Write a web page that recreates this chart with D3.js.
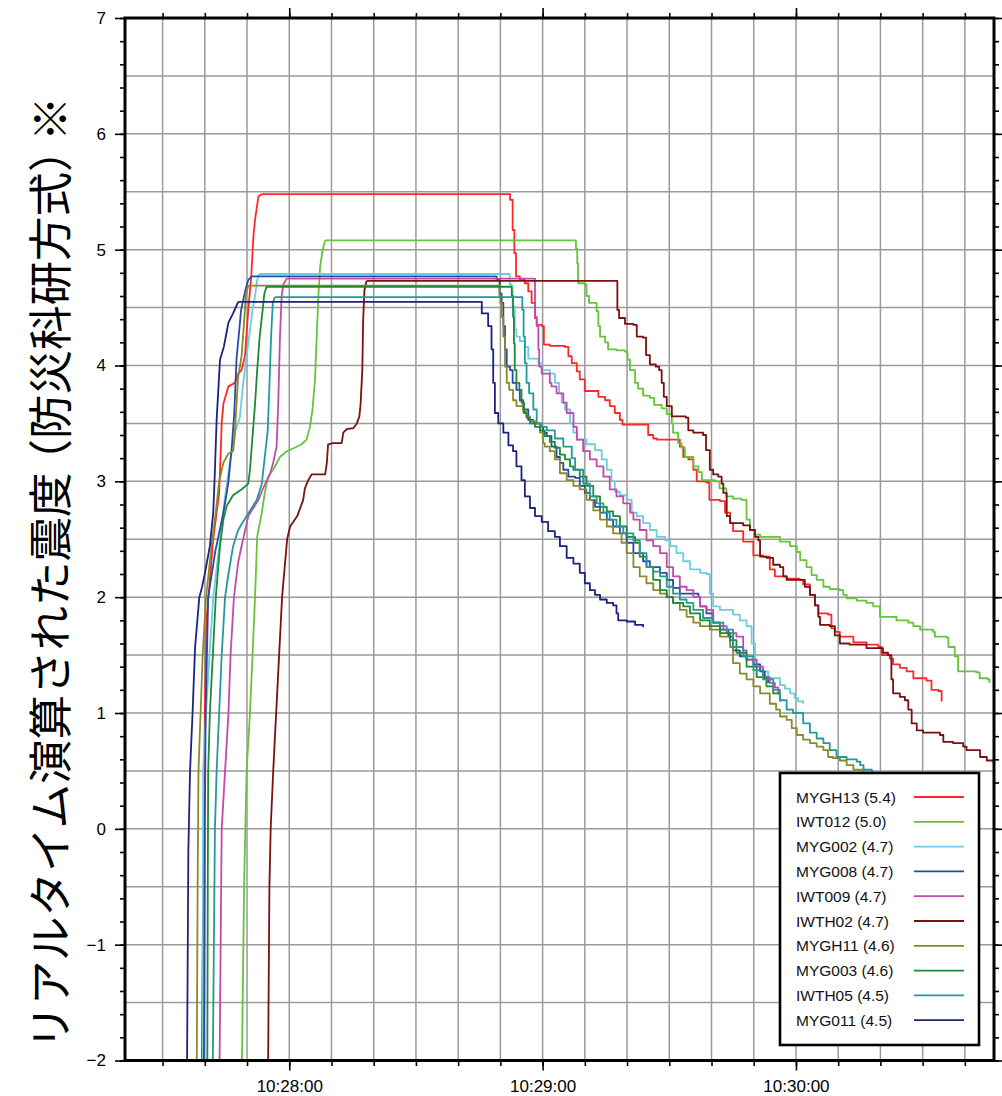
<!DOCTYPE html>
<html>
<head>
<meta charset="utf-8">
<script src="https://cdn.jsdelivr.net/npm/d3@7"></script>
<style>
  html, body { margin: 0; padding: 0; background: #fff; }
  svg { display: block; font-family: "Liberation Sans", Arial, Helvetica, sans-serif; }
</style>
</head>
<body>
<svg id="chart" width="1002" height="1096"></svg>
<script>
// Each series: [seconds relative to 10:28:00, real-time seismic intensity]
const stationNames = ["MYGH13", "IWT012", "MYG002", "MYG008", "IWT009", "IWTH02", "MYGH11", "MYG003", "IWTH05", "MYG011"];
const maxIntensity = ["5.4", "5.0", "4.7", "4.7", "4.7", "4.7", "4.6", "4.6", "4.5", "4.5"];
const lineColors = ["#ff2828", "#66c43a", "#6bcde0", "#2a4aa8", "#c24aaa", "#7a1010", "#8a8a2a", "#1f8a35", "#24999a", "#1c237e"];

const yTickValues = [-2, -1, 0, 1, 2, 3, 4, 5, 6, 7];
const xTickLabels = ["10:28:00", "10:29:00", "10:30:00"];

const MYGH13 = [[-20.8,-3],[-20.7,-2],[-20.5,-1],[-20.2,0],[-20.0,1],[-19.6,1.8],[-18.8,2.15],[-18.0,2.5],[-17.2,2.73],[-16.6,2.9],[-16.3,3.19],[-16.0,3.5],[-15.6,3.67],[-14.4,3.82],[-12.9,3.85],[-12.1,3.93],[-11.3,3.96],[-10.5,4.08],[-9.7,4.48],[-9.0,4.77],[-8.5,5.11],[-8.1,5.26],[-7.3,5.46],[-6.5,5.48],[51.5,5.48],[52.3,5.43],[52.9,5.17],[53.3,4.97],[53.7,4.77],[54.6,4.74],[55.8,4.71],[56.6,4.64],[57.4,4.54],[58.2,4.41],[58.6,4.35],[59.8,4.34],[60.3,4.18],[61.7,4.17],[65.3,4.16],[66.1,4.08],[66.9,4.02],[68.1,3.95],[68.8,3.88],[70.0,3.78],[73.2,3.73],[74.8,3.70],[75.9,3.65],[77.1,3.59],[78.3,3.53],[78.9,3.49],[84.6,3.49],[85.0,3.40],[86.2,3.37],[87.0,3.36],[91.7,3.36],[92.5,3.30],[93.3,3.21],[94.5,3.19],[95.7,3.10],[96.5,3.00],[98.8,2.99],[99.5,2.84],[102.0,2.83],[103.2,2.73],[104.4,2.64],[105.1,2.57],[107.5,2.48],[109.9,2.36],[112.2,2.35],[113.8,2.24],[115.0,2.18],[117.8,2.16],[120.9,2.15],[121.7,2.11],[123.3,2.02],[124.5,1.93],[125.3,1.86],[127.6,1.85],[128.4,1.73],[129.2,1.70],[130.4,1.66],[133.6,1.61],[136.7,1.59],[139.5,1.57],[140.3,1.50],[142.2,1.47],[143.0,1.42],[144.6,1.39],[146.2,1.36],[147.8,1.30],[150.9,1.28],[152.1,1.20],[153.7,1.19],[154.5,1.10]];

const IWT012 = [[-11.3,-3],[-11.2,-2],[-10.7,-0.5],[-10.4,0],[-10.1,0.5],[-9.3,1.0],[-8.7,1.5],[-8.1,2.0],[-7.6,2.52],[-6.5,2.73],[-5.8,2.9],[-5.0,3.04],[-3.8,3.10],[-2.2,3.21],[-0.6,3.26],[1.3,3.29],[2.9,3.32],[4.1,3.36],[4.9,3.47],[5.5,3.62],[6.1,3.88],[6.5,4.25],[6.9,4.60],[7.3,4.85],[7.9,5.0],[8.5,5.08],[67.3,5.08],[67.9,5.01],[68.2,4.88],[68.4,4.71],[70.0,4.70],[70.4,4.60],[71.0,4.54],[72.8,4.47],[73.2,4.34],[73.6,4.25],[74.8,4.20],[75.5,4.14],[77.5,4.13],[79.5,4.12],[80.1,4.05],[80.7,3.96],[81.9,3.85],[82.6,3.80],[83.8,3.74],[85.4,3.72],[86.4,3.66],[88.2,3.63],[89.4,3.58],[90.6,3.50],[90.9,3.42],[92.1,3.33],[92.9,3.29],[93.7,3.21],[95.7,3.13],[96.9,3.08],[97.7,3.01],[100.8,3.0],[101.9,2.94],[103.5,2.87],[105.1,2.85],[107.1,2.84],[108.3,2.67],[109.1,2.58],[110.3,2.54],[111.5,2.52],[116.2,2.48],[118.6,2.44],[120.2,2.39],[121.0,2.32],[122.5,2.26],[123.7,2.19],[124.9,2.15],[126.5,2.09],[128.0,2.07],[130.4,2.06],[131.2,2.02],[132.0,1.99],[134.4,1.97],[136.7,1.95],[138.3,1.92],[139.9,1.83],[143.8,1.80],[146.6,1.78],[147.8,1.75],[149.4,1.72],[152.5,1.70],[152.9,1.66],[155.7,1.65],[156.1,1.57],[157.6,1.49],[158.4,1.36],[162.7,1.35],[163.5,1.30],[165.4,1.29],[165.8,1.26]];

const MYG002 = [[-20.5,-3],[-20.45,-2],[-20.4,0.5],[-19.7,1.0],[-18.9,1.5],[-18.0,2.0],[-16.4,2.5],[-15.2,2.87],[-14.3,3.1],[-12.9,3.42],[-11.7,3.55],[-10.9,3.85],[-9.7,4.19],[-8.7,4.48],[-8.1,4.60],[-7.6,4.74],[-7.1,4.79],[51.9,4.79],[52.2,4.70],[52.7,4.65],[52.9,4.51],[53.4,4.31],[53.8,4.25],[54.6,4.21],[55.8,4.16],[56.6,4.06],[59.0,4.02],[59.8,3.96],[61.7,3.93],[62.9,3.85],[63.9,3.76],[64.5,3.68],[65.3,3.62],[66.5,3.50],[67.3,3.42],[68.1,3.36],[70.4,3.32],[72.4,3.27],[74.0,3.19],[75.2,3.10],[76.3,3.0],[77.1,2.91],[78.3,2.88],[79.9,2.84],[81.1,2.73],[82.3,2.70],[83.8,2.64],[85.4,2.58],[87.0,2.52],[89.0,2.49],[90.2,2.44],[91.7,2.38],[93.3,2.31],[94.9,2.24],[97.3,2.21],[98.8,2.20],[99.6,2.03],[100.4,1.92],[102.0,1.89],[105.1,1.85],[106.7,1.80],[108.3,1.75],[109.5,1.60],[110.3,1.42],[111.5,1.36],[113.4,1.30],[116.2,1.24],[117.4,1.21],[118.6,1.17],[119.7,1.13],[120.5,1.10],[121.7,1.08]];

const MYG008 = [[-20.3,-3],[-20.2,-2],[-20.1,-1],[-20.0,0],[-19.8,1.0],[-19.2,2.0],[-17.5,2.4],[-15.6,2.73],[-14.8,2.9],[-14.4,3.0],[-13.6,3.3],[-13.0,3.6],[-12.5,4.05],[-11.4,4.48],[-10.4,4.65],[-9.7,4.74],[-8.9,4.77],[48.7,4.77],[49.1,4.74],[49.8,4.62],[50.3,4.54],[50.7,4.34],[51.1,4.14],[51.5,3.99],[52.3,3.96],[52.9,3.85],[53.8,3.79],[54.6,3.70],[55.4,3.62],[56.6,3.53],[57.8,3.50],[59.4,3.47],[60.1,3.42],[61.0,3.39],[62.1,3.30],[63.3,3.21],[64.1,3.16],[64.9,3.10],[66.1,3.04],[67.7,3.03],[68.8,2.96],[70.0,2.90],[71.2,2.84],[72.4,2.78],[73.6,2.73],[75.2,2.67],[76.7,2.61],[78.3,2.55],[79.9,2.47],[81.5,2.38],[83.8,2.31],[85.4,2.26],[87.8,2.21],[89.4,2.15],[90.9,2.08],[92.5,2.03],[96.9,2.0],[97.3,1.92],[98.8,1.86],[100.4,1.78],[102.0,1.72],[104.0,1.66],[105.1,1.54],[106.7,1.49],[108.3,1.46],[109.9,1.42],[111.5,1.36],[112.6,1.30],[113.4,1.26]];

const IWT009 = [[-16.6,-3],[-16.5,-2],[-16.0,0],[-15.2,0.5],[-14.4,1.0],[-13.9,1.5],[-13.1,2.0],[-12.1,2.3],[-11.3,2.44],[-9.7,2.70],[-7.3,2.84],[-6.2,2.94],[-5.4,3.0],[-4.6,3.06],[-3.8,3.16],[-3.0,3.30],[-2.6,3.68],[-2.2,4.25],[-1.8,4.60],[-1.4,4.70],[-0.6,4.75],[57.8,4.75],[58.2,4.42],[58.6,4.34],[59.0,4.14],[59.2,3.99],[59.8,3.93],[61.7,3.85],[62.1,3.82],[63.3,3.76],[64.9,3.68],[65.7,3.59],[67.3,3.47],[68.1,3.36],[69.6,3.26],[71.2,3.19],[72.8,3.13],[74.4,3.04],[75.9,2.93],[77.5,2.87],[79.1,2.81],[80.7,2.73],[81.5,2.67],[83.0,2.58],[84.6,2.49],[86.2,2.44],[87.8,2.38],[89.4,2.26],[90.9,2.18],[92.5,2.09],[94.1,2.06],[95.7,2.0],[97.3,1.92],[98.8,1.89],[100.4,1.78],[102.0,1.75],[103.6,1.69],[105.9,1.66],[107.5,1.54],[108.3,1.46],[110.7,1.40],[112.2,1.31],[113.8,1.26],[115.0,1.22],[115.8,1.16]];

const IWTH02 = [[-5.1,-3],[-5.0,-2],[-4.7,-0.5],[-4.4,0],[-3.8,0.5],[-3.1,1.0],[-2.4,1.5],[-1.7,2.0],[-1.3,2.17],[-0.5,2.5],[0.2,2.61],[1.9,2.7],[3.3,2.84],[3.7,2.94],[4.5,3.01],[5.3,3.06],[8.5,3.06],[8.9,3.16],[9.2,3.32],[10.4,3.33],[12.4,3.33],[12.8,3.42],[13.6,3.45],[15.2,3.46],[16.0,3.50],[16.6,3.56],[16.9,3.67],[17.3,3.96],[17.5,4.39],[17.8,4.65],[18.3,4.73],[77.4,4.73],[77.7,4.48],[78.1,4.41],[79.5,4.36],[81.5,4.35],[82.3,4.25],[83.8,4.24],[84.5,4.09],[85.4,4.01],[86.8,3.99],[87.6,3.96],[88.2,3.85],[88.7,3.73],[89.4,3.65],[90.6,3.56],[93.9,3.55],[94.5,3.44],[95.7,3.42],[98.0,3.40],[98.7,3.27],[99.6,3.10],[100.4,3.06],[101.6,3.04],[102.4,2.98],[102.8,2.90],[103.6,2.70],[104.4,2.64],[107.5,2.62],[109.1,2.58],[110.3,2.52],[111.1,2.49],[111.5,2.35],[113.0,2.34],[114.6,2.28],[116.2,2.26],[117.0,2.18],[117.8,2.15],[120.9,2.15],[122.1,2.09],[123.3,2.02],[124.5,1.93],[125.3,1.83],[125.7,1.76],[128.0,1.75],[129.2,1.67],[130.4,1.60],[132.7,1.59],[136.7,1.56],[140.6,1.52],[141.8,1.50],[142.6,1.29],[143.0,1.17],[144.6,1.14],[145.8,1.11],[146.6,1.03],[147.4,0.91],[148.6,0.85],[150.1,0.83],[154.1,0.81],[154.9,0.75],[157.2,0.74],[159.6,0.71],[160.4,0.68],[163.2,0.68],[163.6,0.62],[165.2,0.59],[166.8,0.57],[168.0,0.55]];

const MYGH11 = [[-22.0,-3],[-21.9,-2],[-21.7,-0.5],[-21.5,0.5],[-21.0,1],[-20.5,1.5],[-19.7,2],[-18.4,2.44],[-17.4,2.73],[-16.6,3.0],[-15.6,3.16],[-14.4,3.24],[-13.3,3.26],[-12.9,3.39],[-12.5,3.67],[-12.1,3.90],[-11.3,4.08],[-10.7,4.37],[-10.3,4.60],[-9.7,4.69],[48.9,4.69],[49.8,4.60],[50.0,4.54],[50.3,4.42],[50.7,4.25],[51.1,3.99],[51.5,3.85],[52.1,3.79],[53.0,3.70],[53.8,3.65],[55.4,3.60],[56.2,3.56],[57.0,3.52],[58.2,3.50],[59.4,3.42],[60.1,3.33],[60.5,3.30],[61.7,3.26],[62.9,3.19],[64.1,3.07],[65.7,3.01],[67.3,2.96],[68.8,2.93],[70.4,2.84],[72.0,2.75],[73.6,2.67],[75.2,2.61],[76.7,2.55],[78.7,2.47],[79.9,2.38],[81.5,2.26],[83.0,2.18],[84.6,2.12],[86.2,2.06],[87.8,2.03],[89.4,2.0],[90.9,1.95],[92.5,1.89],[94.1,1.83],[95.7,1.78],[97.3,1.75],[99.6,1.72],[102.0,1.66],[104.4,1.57],[105.1,1.43],[106.7,1.34],[108.3,1.29],[109.9,1.23],[111.5,1.17],[113.8,1.08],[115.3,1.03],[116.2,0.97],[117.8,0.94],[119.0,0.87],[120.2,0.81],[121.7,0.77],[123.3,0.74],[124.9,0.71],[126.5,0.68],[127.6,0.62],[128.8,0.61],[130.4,0.59],[132.0,0.55],[133.6,0.51],[136.0,0.46],[140.0,0.40]];

const MYG003 = [[-19.5,-3],[-19.4,-2],[-19.3,-0.5],[-19.2,0.5],[-18.8,1.0],[-18.1,1.5],[-17.4,2.0],[-16.4,2.44],[-15.6,2.67],[-14.8,2.79],[-13.3,2.88],[-11.3,2.93],[-9.7,2.98],[-9.3,3.10],[-8.7,3.39],[-8.1,3.67],[-7.6,3.96],[-7.0,4.25],[-6.3,4.48],[-5.9,4.62],[-5.4,4.68],[52.3,4.68],[52.7,4.60],[53.0,4.42],[53.2,4.19],[53.4,3.96],[53.8,3.85],[54.5,3.79],[55.0,3.68],[55.6,3.59],[56.2,3.55],[57.0,3.50],[58.2,3.47],[59.4,3.44],[60.5,3.39],[61.7,3.34],[62.9,3.29],[64.1,3.23],[65.3,3.19],[66.5,3.13],[67.3,3.10],[68.8,3.04],[70.4,2.96],[72.0,2.87],[73.6,2.78],[75.2,2.74],[76.7,2.70],[78.3,2.61],[79.9,2.52],[81.9,2.47],[83.0,2.35],[84.6,2.26],[86.2,2.15],[87.8,2.06],[89.4,2.0],[90.9,1.95],[93.3,1.92],[94.9,1.86],[97.3,1.80],[99.6,1.75],[102.0,1.69],[104.4,1.63],[105.9,1.52],[108.3,1.40],[110.7,1.31],[113.0,1.23],[114.6,1.17],[116.2,1.10]];

const IWTH05 = [[-18.2,-3],[-18.1,-2],[-17.6,0],[-17.2,0.5],[-16.6,1.0],[-16.0,1.5],[-15.2,2.0],[-14.4,2.2],[-13.3,2.44],[-12.1,2.58],[-10.1,2.70],[-7.7,2.84],[-6.5,2.98],[-5.8,3.21],[-5.1,3.44],[-4.7,3.82],[-4.3,4.25],[-3.9,4.54],[-3.4,4.59],[55.0,4.59],[55.2,4.48],[55.5,4.25],[55.8,4.02],[56.2,3.85],[56.8,3.76],[57.8,3.62],[58.6,3.50],[59.8,3.47],[61.0,3.44],[62.9,3.37],[64.9,3.30],[66.9,3.20],[67.7,3.10],[69.6,2.98],[71.2,2.87],[72.8,2.81],[74.4,2.73],[75.9,2.67],[77.5,2.61],[79.1,2.55],[81.5,2.49],[83.0,2.38],[84.6,2.26],[86.2,2.22],[87.8,2.18],[89.4,2.09],[90.9,2.03],[92.5,1.98],[94.1,1.95],[95.7,1.89],[98.0,1.82],[100.4,1.78],[102.8,1.72],[105.1,1.57],[107.5,1.49],[109.9,1.37],[112.2,1.29],[114.6,1.20],[116.2,1.11],[117.8,1.03],[119.3,1.0],[121.0,1.0],[121.7,0.91],[123.3,0.83],[124.9,0.78],[126.5,0.74],[128.0,0.68],[129.6,0.62],[132.0,0.60],[134.4,0.58],[135.2,0.55],[136.0,0.51],[138.0,0.45]];

const MYG011 = [[-24.3,-3],[-24.2,-2],[-23.9,-0.2],[-23.5,0.5],[-22.9,1.0],[-22.3,1.57],[-21.3,2.0],[-20.7,2.08],[-20.0,2.2],[-18.8,2.44],[-18.0,2.73],[-17.7,3.0],[-17.2,3.53],[-16.4,4.05],[-15.5,4.16],[-14.4,4.37],[-13.3,4.45],[-12.1,4.55],[44.4,4.55],[45.6,4.45],[47.1,4.34],[47.9,4.14],[48.3,3.85],[48.7,3.59],[49.5,3.5],[50.7,3.42],[51.9,3.31],[53.0,3.26],[53.8,3.13],[55.0,3.01],[55.8,2.87],[57.0,2.77],[58.2,2.70],[59.8,2.65],[61.3,2.57],[62.9,2.52],[64.1,2.44],[65.7,2.34],[67.3,2.29],[68.8,2.21],[70.0,2.12],[71.2,2.06],[72.4,2.02],[73.6,1.98],[75.2,1.95],[76.7,1.93],[77.5,1.86],[77.9,1.80],[79.9,1.79],[81.9,1.76],[83.8,1.74]];

const seriesValues = [MYGH13, IWT012, MYG002, MYG008, IWT009, IWTH02, MYGH11, MYG003, IWTH05, MYG011];

const series = stationNames.map((name, i) => ({
  name,
  label: `${name} (${maxIntensity[i]})`,
  color: lineColors[i],
  values: seriesValues[i]
}));

// ---- layout ----
const plot = { left: 125, right: 994, top: 18, bottom: 1060.5 };

const base = new Date(2000, 0, 1, 10, 28, 0);
const at = s => new Date(base.getTime() + s * 1000);

const x = d3.scaleTime().domain([at(-38.9), at(166.9)]).range([plot.left, plot.right]);
const y = d3.scaleLinear().domain([-2, 7]).range([plot.bottom, plot.top]);

const svg = d3.select("#chart");

svg.append("defs").append("clipPath").attr("id", "plot-clip")
  .append("rect")
  .attr("x", plot.left).attr("y", plot.top)
  .attr("width", plot.right - plot.left).attr("height", plot.bottom - plot.top);

// ---- grid ----
const grid = svg.append("g").attr("class", "grid")
  .attr("stroke", "#9a9a9a").attr("stroke-width", 1.5);

const tenSec = x.ticks(d3.timeSecond.every(10));
grid.selectAll("line.v").data(tenSec).join("line").attr("class", "v")
  .attr("x1", d => x(d)).attr("x2", d => x(d))
  .attr("y1", plot.top).attr("y2", plot.bottom);

grid.selectAll("line.h").data(d3.range(-2, 7.001, 0.5)).join("line").attr("class", "h")
  .attr("x1", plot.left).attr("x2", plot.right)
  .attr("y1", d => y(d)).attr("y2", d => y(d));

// ---- series ----
// The onset (up to the peak) is drawn as a continuous trace; after the
// peak the intensity is held until each update, so it is drawn as steps.
const riseLine = d3.line()
  .x(d => x(at(d[0])))
  .y(d => y(d[1]))
  .curve(d3.curveLinear);
const holdLine = d3.line()
  .x(d => x(at(d[0])))
  .y(d => y(d[1]))
  .curve(d3.curveStepAfter);

const tracePath = values => {
  const peak = d3.max(values, d => d[1]);
  const k = values.findIndex(d => d[1] === peak);
  return riseLine(values.slice(0, k + 1)) + holdLine(values.slice(k));
};

svg.append("g").attr("clip-path", "url(#plot-clip)")
  .selectAll("path").data(series).join("path")
  .attr("fill", "none")
  .attr("stroke", d => d.color)
  .attr("stroke-width", 1.8)
  .attr("stroke-linejoin", "round")
  .attr("d", d => tracePath(d.values));

// ---- axes ----
const fontSize = 17;
const styleAxis = g => {
  g.select(".domain").remove();
  g.selectAll(".tick line").attr("stroke", "#000").attr("stroke-width", 1.6);
  g.selectAll(".tick text").attr("fill", "#000").attr("font-size", fontSize)
    .attr("font-family", "'Liberation Sans', Arial, sans-serif");
};

const minorY = d3.range(-2, 7.001, 0.2).map(v => +v.toFixed(1));
const minuteTicks = x.ticks(d3.timeMinute.every(1));

// left
svg.append("g").attr("transform", `translate(${plot.left},0)`)
  .call(d3.axisLeft(y).tickValues(minorY).tickSize(5).tickFormat(""))
  .call(styleAxis);
svg.append("g").attr("transform", `translate(${plot.left},0)`)
  .call(d3.axisLeft(y).tickValues(yTickValues).tickSize(10).tickPadding(9).tickFormat(d3.format("d")))
  .call(styleAxis);
// right
svg.append("g").attr("transform", `translate(${plot.right},0)`)
  .call(d3.axisRight(y).tickValues(minorY).tickSize(5).tickFormat(""))
  .call(styleAxis);
svg.append("g").attr("transform", `translate(${plot.right},0)`)
  .call(d3.axisRight(y).tickValues(yTickValues).tickSize(10).tickFormat(""))
  .call(styleAxis);
// top
svg.append("g").attr("transform", `translate(0,${plot.top})`)
  .call(d3.axisTop(x).tickValues(tenSec).tickSize(5).tickFormat(""))
  .call(styleAxis);
svg.append("g").attr("transform", `translate(0,${plot.top})`)
  .call(d3.axisTop(x).tickValues(minuteTicks).tickSize(10).tickFormat(""))
  .call(styleAxis);
// bottom
svg.append("g").attr("transform", `translate(0,${plot.bottom})`)
  .call(d3.axisBottom(x).tickValues(tenSec).tickSize(5.5).tickFormat(""))
  .call(styleAxis);
svg.append("g").attr("transform", `translate(0,${plot.bottom})`)
  .call(d3.axisBottom(x).tickValues(minuteTicks).tickSize(10).tickPadding(9)
    .tickFormat((d, i) => xTickLabels[i]))
  .call(styleAxis);

// frame
svg.append("rect")
  .attr("x", plot.left).attr("y", plot.top)
  .attr("width", plot.right - plot.left).attr("height", plot.bottom - plot.top)
  .attr("fill", "none").attr("stroke", "#000").attr("stroke-width", 3);

// ---- y-axis title ----
const title = svg.append("text")
  .attr("transform", `translate(47,573) rotate(-90)`)
  .attr("text-anchor", "middle")
  .attr("dominant-baseline", "central")
  .attr("font-family", "'Noto Sans CJK JP', sans-serif")
  .attr("font-size", 44.5)
  .attr("fill", "#000");
title.append("tspan").text("リアルタイム演算された震度");
title.append("tspan").attr("dx", "-0.25em").text("（防災科研方式）");
title.append("tspan").attr("dx", "-0.3em").text("※");

// ---- legend ----
const legend = svg.append("g").attr("class", "legend");
legend.append("rect")
  .attr("x", 780).attr("y", 773).attr("width", 199).attr("height", 272)
  .attr("fill", "#fff").attr("stroke", "#000").attr("stroke-width", 2.6);

const rows = legend.selectAll("g.row").data(series).join("g").attr("class", "row")
  .attr("transform", (d, i) => `translate(0,${797 + i * 24.8})`);
rows.append("text")
  .attr("x", 796).attr("y", 0).attr("dy", "0.36em")
  .attr("font-size", 15.5).attr("fill", "#111")
  .text(d => d.label);
rows.append("line")
  .attr("x1", 914).attr("x2", 964).attr("y1", 0).attr("y2", 0)
  .attr("stroke", d => d.color).attr("stroke-width", 1.8);
</script>
</body>
</html>
